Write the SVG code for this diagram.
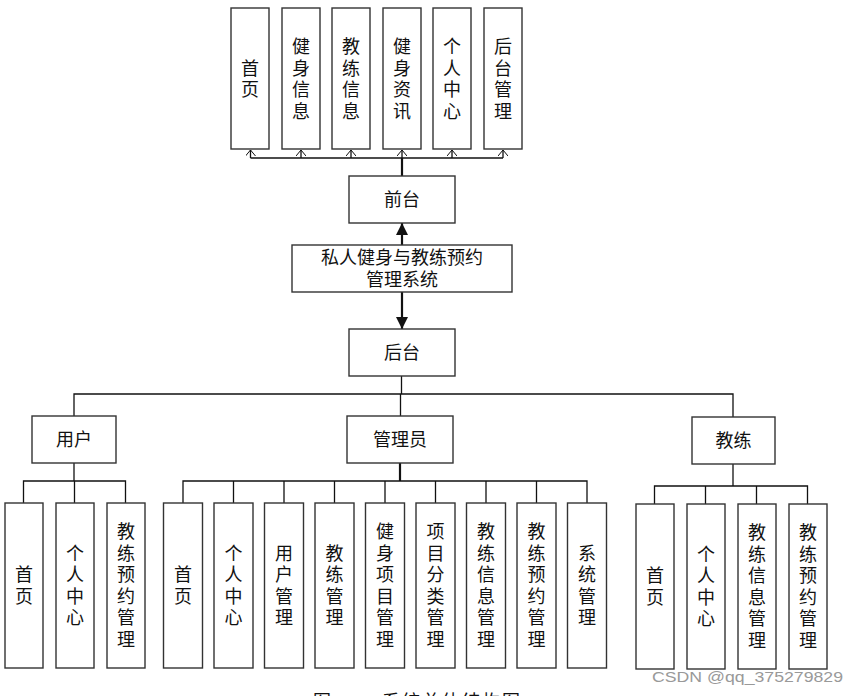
<svg xmlns="http://www.w3.org/2000/svg" width="858" height="696" viewBox="0 0 858 696">
<style>
.box{fill:#fff;stroke:#333;stroke-width:1.4}
.t{font-family:"Noto Sans CJK SC","Noto Sans",sans-serif;font-size:18px;fill:#111;text-anchor:middle}
.v{font-family:"Noto Sans CJK SC","Noto Sans",sans-serif;font-size:18px;fill:#111;text-anchor:middle;writing-mode:vertical-rl;letter-spacing:3.5px}
.ln{fill:none;stroke:#111;stroke-width:1.3}
.th{fill:none;stroke:#111;stroke-width:2.2}
</style>
<defs>
<marker id="open" markerWidth="8" markerHeight="10" refX="7" refY="5" orient="auto" markerUnits="userSpaceOnUse" viewBox="0 0 8 10">
<path d="M1,0 L7,5 L1,10" fill="none" stroke="#111" stroke-width="1"/>
</marker>
<marker id="fill" markerWidth="12" markerHeight="12" refX="6" refY="0" markerUnits="userSpaceOnUse" viewBox="0 0 12 12">
<path d="M0,12 L6,0 L12,12 Z" fill="#111"/>
</marker>
<marker id="filld" markerWidth="12" markerHeight="12" refX="6" refY="12" markerUnits="userSpaceOnUse" viewBox="0 0 12 12">
<path d="M0,0 L6,12 L12,0 Z" fill="#111"/>
</marker>
</defs>

<g id="connectors">
<path class="ln" d="M250.5,158 H503"/>
<path class="th" d="M402,176 V158"/>
<path class="ln" marker-end="url(#open)" d="M250.5,158 V150"/>
<path class="ln" marker-end="url(#open)" d="M301,158 V150"/>
<path class="ln" marker-end="url(#open)" d="M351,158 V150"/>
<path class="ln" marker-end="url(#open)" d="M402,158 V150"/>
<path class="ln" marker-end="url(#open)" d="M452,158 V150"/>
<path class="ln" marker-end="url(#open)" d="M503,158 V150"/>
<path class="th" marker-end="url(#fill)" d="M402,245 V223"/>
<path class="th" marker-end="url(#filld)" d="M402,292 V329"/>
<path class="ln" d="M401.5,376 V394"/>
<path class="ln" d="M74,416 V394 H733 V417"/>
<path class="ln" d="M400.5,394 V416"/>
<path class="ln" d="M74,463 V481"/>
<path class="ln" d="M23.5,503 V481 H125.5 V503 M74.5,481 V503"/>
<path class="th" d="M400,463 V481"/>
<path class="ln" d="M183,503 V481 H587 V503 M233.5,481 V503 M284,481 V503 M334.5,481 V503 M385,481 V503 M435.5,481 V503 M486,481 V503 M536.5,481 V503"/>
<path class="ln" d="M733,464 V486"/>
<path class="ln" d="M654.5,504 V486 H807.5 V504 M705.5,486 V504 M756.5,486 V504"/>
</g>

<g id="n-home"><rect class="box" x="231" y="8" width="38" height="141"/><text class="v" x="250" y="80.5">首页</text></g>
<g id="n-fitinfo"><rect class="box" x="282" y="8" width="38" height="141"/><text class="v" x="301" y="80.5">健身信息</text></g>
<g id="n-coachinfo"><rect class="box" x="332" y="8" width="38" height="141"/><text class="v" x="351" y="80.5">教练信息</text></g>
<g id="n-news"><rect class="box" x="383" y="8" width="38" height="141"/><text class="v" x="402" y="80.5">健身资讯</text></g>
<g id="n-center"><rect class="box" x="433" y="8" width="38" height="141"/><text class="v" x="452" y="80.5">个人中心</text></g>
<g id="n-backmgr"><rect class="box" x="484" y="8" width="38" height="141"/><text class="v" x="503" y="80.5">后台管理</text></g>

<g id="n-front"><rect class="box" x="349" y="176" width="106" height="47"/><text class="t" x="402" y="205.5">前台</text></g>
<g id="n-system"><rect class="box" x="292" y="245" width="220" height="47"/><text class="t" x="402" y="264"><tspan x="402" y="264">私人健身与教练预约</tspan><tspan x="402" y="286">管理系统</tspan></text></g>
<g id="n-back"><rect class="box" x="349" y="329" width="106" height="47"/><text class="t" x="402" y="358.5">后台</text></g>

<g id="n-user"><rect class="box" x="32" y="416" width="84" height="47"/><text class="t" x="74" y="445.5">用户</text></g>
<g id="n-admin"><rect class="box" x="347" y="416" width="106" height="47"/><text class="t" x="400" y="445.5">管理员</text></g>
<g id="n-coach"><rect class="box" x="692" y="417" width="83" height="47"/><text class="t" x="733.5" y="446.5">教练</text></g>

<g id="u-home"><rect class="box" x="5" y="503" width="38" height="165"/><text class="v" x="24" y="587">首页</text></g>
<g id="u-center"><rect class="box" x="56" y="503" width="38" height="165"/><text class="v" x="75" y="587">个人中心</text></g>
<g id="u-booking"><rect class="box" x="107" y="503" width="38" height="165"/><text class="v" x="126" y="587">教练预约管理</text></g>

<g id="a-home"><rect class="box" x="163.5" y="503" width="39" height="165"/><text class="v" x="183" y="587">首页</text></g>
<g id="a-center"><rect class="box" x="214" y="503" width="39" height="165"/><text class="v" x="233.5" y="587">个人中心</text></g>
<g id="a-user"><rect class="box" x="264.5" y="503" width="39" height="165"/><text class="v" x="284" y="587">用户管理</text></g>
<g id="a-coach"><rect class="box" x="315" y="503" width="39" height="165"/><text class="v" x="334.5" y="587">教练管理</text></g>
<g id="a-project"><rect class="box" x="365.5" y="503" width="39" height="165"/><text class="v" x="385" y="587">健身项目管理</text></g>
<g id="a-category"><rect class="box" x="416" y="503" width="39" height="165"/><text class="v" x="435.5" y="587">项目分类管理</text></g>
<g id="a-coachinfo"><rect class="box" x="466.5" y="503" width="39" height="165"/><text class="v" x="486" y="587">教练信息管理</text></g>
<g id="a-booking"><rect class="box" x="517" y="503" width="39" height="165"/><text class="v" x="536.5" y="587">教练预约管理</text></g>
<g id="a-system"><rect class="box" x="567.5" y="503" width="39" height="165"/><text class="v" x="587" y="587">系统管理</text></g>

<g id="c-home"><rect class="box" x="636" y="504" width="38" height="165"/><text class="v" x="655" y="588">首页</text></g>
<g id="c-center"><rect class="box" x="687" y="504" width="38" height="165"/><text class="v" x="706" y="588">个人中心</text></g>
<g id="c-info"><rect class="box" x="738" y="504" width="38" height="165"/><text class="v" x="757" y="588">教练信息管理</text></g>
<g id="c-booking"><rect class="box" x="789" y="504" width="38" height="165"/><text class="v" x="808" y="588">教练预约管理</text></g>

<text x="313" y="708" style="font-family:'Noto Sans CJK SC',sans-serif;font-size:18px;fill:#111">图</text>
<text x="382" y="708" textLength="138" style="font-family:'Noto Sans CJK SC',sans-serif;font-size:18px;fill:#111">系统总体结构图</text>
<text x="652" y="682" textLength="191" lengthAdjust="spacingAndGlyphs" style="font-family:'Liberation Sans',Arial,sans-serif;font-size:15px;fill:#999">CSDN @qq_375279829</text>
</svg>
